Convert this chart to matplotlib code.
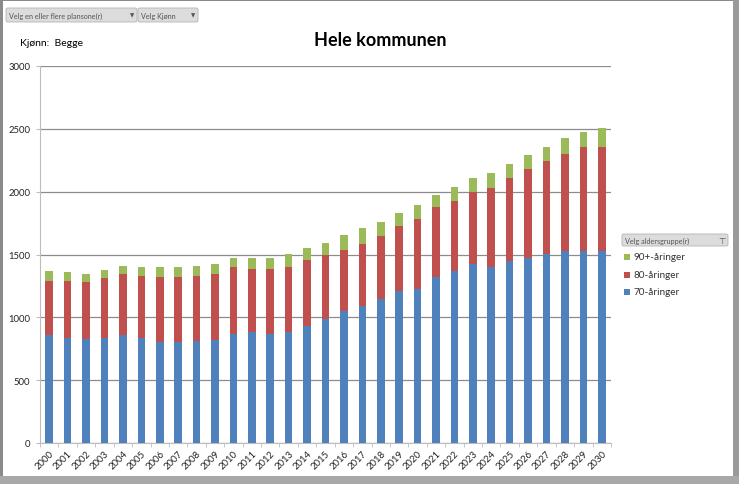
import matplotlib
matplotlib.use("Agg")
import matplotlib.pyplot as plt
from matplotlib.patches import Rectangle, FancyBboxPatch
import numpy as np

plt.rcParams['font.family'] = ['Lato', 'DejaVu Sans']

years = [str(y) for y in range(2000, 2031)]
age70 = [862, 838, 824, 838, 859, 838, 806, 801, 809, 817, 867, 880, 864, 880, 931, 984,
         1047, 1090, 1143, 1210, 1228, 1323, 1371, 1421, 1403, 1451, 1472, 1501, 1530, 1530, 1525]
age80 = [427, 448, 454, 472, 483, 488, 512, 517, 517, 525, 536, 501, 517, 517, 522, 512,
         486, 496, 501, 514, 551, 552, 557, 573, 628, 660, 705, 740, 767, 822, 833]
age90 = [80, 77, 64, 69, 63, 77, 79, 85, 79, 85, 72, 91, 91, 104, 98, 98,
         122, 122, 117, 109, 112, 101, 112, 117, 120, 112, 117, 117, 130, 125, 149]
series_labels = ['70-åringer', '80-åringer', '90+-åringer']
colors = ['#4F81BD', '#C0504D', '#9BBB59']

W, H = 739, 485
fig = plt.figure(figsize=(W / 100, H / 100), dpi=100)
fig.patch.set_facecolor('white')

ax = fig.add_axes([40 / W, 1 - 444 / H, 571 / W, 377 / H])
x = np.arange(len(years))
a70 = np.array(age70); a80 = np.array(age80); a90 = np.array(age90)
bw = 0.41
ax.bar(x, a70, bw, color=colors[0], zorder=3)
ax.bar(x, a80, bw, bottom=a70, color=colors[1], zorder=3)
ax.bar(x, a90, bw, bottom=a70 + a80, color=colors[2], zorder=3)

ax.set_xlim(-0.5, len(years) - 0.5)
ax.set_ylim(0, 3000)
ax.set_yticks(range(0, 3001, 500))
ax.yaxis.grid(True, color='#8c8c8c', linewidth=0.9, zorder=0)
ax.set_axisbelow(True)
for s in ['top', 'right']:
    ax.spines[s].set_visible(False)
ax.spines['left'].set_color('#bdbdbd')
ax.spines['bottom'].set_color('#bdbdbd')
ax.set_xticks(x)
ax.set_xticklabels(years, rotation=45, ha='right', rotation_mode='anchor', fontsize=6.8, color='#222222')
ax.set_xticks(np.arange(-0.5, len(years), 1), minor=True)
ax.tick_params(axis='x', which='major', length=0, pad=4)
ax.tick_params(axis='x', which='minor', length=3, color='#bdbdbd')
ax.tick_params(axis='y', length=3, color='#bdbdbd', labelsize=6.8, labelcolor='#222222', pad=4)

# Title and header text
fig.text(380 / W, 1 - 40 / H, 'Hele kommunen', ha='center', va='center', fontsize=13, fontweight='bold')
fig.text(20 / W, 1 - 44 / H, 'Kjønn:  Begge', ha='left', va='center', fontsize=7.5)

# Filter buttons
def button(x0, y0, w, h, label, fs=5.2, arrow=True):
    p = FancyBboxPatch((x0 / W, 1 - (y0 + h) / H), w / W, h / H,
                       boxstyle='round,pad=0,rounding_size=0.003', transform=fig.transFigure,
                       facecolor='#dcdcdc', edgecolor='#b5b5b5', linewidth=0.6)
    fig.patches.append(p)
    fig.text((x0 + 3) / W, 1 - (y0 + h / 2) / H, label, ha='left', va='center', fontsize=fs, color='#555555')
    if arrow:
        fig.text((x0 + w - 5) / W, 1 - (y0 + h / 2) / H, '▼', ha='center', va='center', fontsize=4,
                 color='#555555', family='DejaVu Sans')

button(6, 9, 131, 14, 'Velg en eller flere plansone(r)')
button(138, 9, 60, 14, 'Velg Kjønn')
button(622, 235, 106, 12, 'Velg aldersgruppe(r)', arrow=False)
fig.text(722 / W, 1 - 241 / H, '⊤', ha='center', va='center', fontsize=6, color='#555555', family='DejaVu Sans')

# Legend entries (top to bottom: 90+, 80, 70)
leg_y = [258, 276, 293]
for i, yy in zip([2, 1, 0], leg_y):
    fig.patches.append(Rectangle((624 / W, 1 - (yy + 3) / H), 6 / W, 6 / H, transform=fig.transFigure,
                                 facecolor=colors[i], edgecolor='none'))
    fig.text(633 / W, 1 - yy / H, series_labels[i], ha='left', va='center', fontsize=7.2, color='#333333')

# Outer frame borders
fig.patches.append(Rectangle((0, 0), 3 / W, 1, transform=fig.transFigure, facecolor='#8a8a8a', edgecolor='none'))
fig.patches.append(Rectangle((0, 1 - 2 / H), 1, 2 / H, transform=fig.transFigure, facecolor='#8a8a8a', edgecolor='none'))
fig.patches.append(Rectangle((1 - 6 / W, 0), 6 / W, 1, transform=fig.transFigure, facecolor='#9a9a9a', edgecolor='none'))
fig.patches.append(Rectangle((0, 0), 1, 8 / H, transform=fig.transFigure, facecolor='#a8a8a8', edgecolor='none'))

fig.savefig('out.png', dpi=100)
